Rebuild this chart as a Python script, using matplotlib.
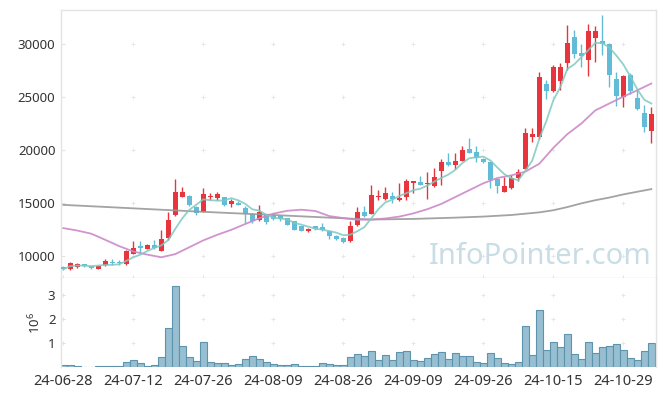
"""Daily candlestick chart with moving averages and volume (2024-06-28 .. 2024-11-04)."""

import matplotlib

matplotlib.use("Agg")
import matplotlib.pyplot as plt
import numpy as np
import pandas as pd

# ---------------------------------------------------------------------------
# Data
# ---------------------------------------------------------------------------

START = "2024-06-28"
END = "2024-11-04"
KR_HOLIDAYS = [
    "2024-08-15", "2024-09-16", "2024-09-17", "2024-09-18",
    "2024-10-01", "2024-10-03", "2024-10-09",
]

OPEN = [
    8950, 8700, 8900, 9080, 9030, 8710, 9090, 9350, 9330, 9190,
    10190, 10800, 10660, 11040, 10440, 11630, 13840, 15600, 15660, 14650,
    14180, 15550, 15470, 15540, 14910, 15030, 14500, 13960, 13400, 13930,
    13770, 13800, 13560, 13240, 12770, 12300, 12770, 12710, 12300, 11900,
    11700, 11350, 12920, 14150, 13960, 15550, 15380, 15660, 15280, 15600,
    16860, 16980, 16760, 16640, 18050, 18840, 18580, 18990, 20100, 19780,
    19150, 18900, 17260, 16070, 16390, 17330, 18240, 21260, 21200, 26230,
    25550, 26540, 28240, 30660, 29180, 28490, 30600, 30300, 30060, 26760,
    24970, 27080, 24880, 23460, 21830,
]
HIGH = [
    9000, 9450, 9310, 9150, 9050, 9060, 9650, 9700, 9600, 10570,
    11350, 11400, 11100, 11450, 12450, 14180, 17240, 16500, 15700, 14700,
    16390, 15950, 16070, 15600, 15400, 15150, 14700, 14000, 14810, 13960,
    14000, 13850, 13600, 13250, 12800, 12600, 12850, 13100, 12350, 12000,
    11800, 13300, 14600, 14700, 16700, 16200, 16500, 16000, 16890, 17250,
    17100, 17500, 17900, 18270, 19120, 19750, 19700, 20380, 21100, 20400,
    19200, 18950, 17300, 17490, 17600, 18200, 22050, 22050, 27390, 26600,
    28000, 28200, 31790, 31320, 30060, 31890, 31750, 32740, 30100, 27400,
    27100, 27300, 25700, 24250, 24090,
]
LOW = [
    8620, 8650, 8880, 8900, 8780, 8700, 9050, 9150, 9150, 9100,
    10150, 10300, 10600, 10650, 10400, 11500, 13710, 15540, 14700, 13870,
    14100, 15250, 15250, 14700, 14650, 14750, 13090, 13050, 13300, 12980,
    13400, 13300, 12900, 12400, 12300, 12250, 12450, 12300, 11600, 11450,
    11200, 11250, 12800, 13650, 13900, 15300, 15300, 14950, 15200, 15300,
    15950, 16650, 15400, 16500, 16700, 18500, 18200, 18950, 19700, 18850,
    18800, 16390, 15910, 16000, 16300, 17100, 18200, 20800, 21000, 24780,
    25500, 25660, 27550, 28700, 27860, 26980, 28300, 28960, 25980, 24180,
    24090, 25300, 23800, 21730, 20630,
]
CLOSE = [
    8720, 9300, 9180, 9040, 8800, 9030, 9530, 9300, 9290, 10400,
    10760, 10740, 11040, 10730, 11600, 13330, 16010, 16010, 14750, 14030,
    15850, 15620, 15790, 14840, 15130, 14810, 13930, 13240, 14180, 13180,
    13460, 13500, 12920, 12450, 12360, 12520, 12520, 12450, 11820, 11600,
    11300, 12770, 14090, 13770, 15750, 15620, 15970, 15400, 15500, 17080,
    17020, 16700, 16820, 17420, 18840, 18580, 18960, 20000, 19750, 19270,
    18900, 17170, 16640, 16600, 17330, 17960, 21640, 21510, 26920, 25600,
    27830, 27860, 30130, 29120, 28930, 31230, 31230, 30050, 27080, 25120,
    26980, 25600, 23900, 22140, 23400,
]
VOLUME = [
    70000, 70000, 30000, 5000, 5000, 30000, 30000, 30000, 30000, 190000,
    280000, 150000, 30000, 70000, 400000, 1610000, 3375000, 860000, 400000, 240000,
    1030000, 190000, 150000, 150000, 70000, 110000, 320000, 440000, 320000, 190000,
    110000, 70000, 70000, 110000, 30000, 30000, 30000, 150000, 110000, 70000,
    70000, 400000, 530000, 440000, 650000, 280000, 490000, 280000, 610000, 650000,
    280000, 240000, 360000, 530000, 610000, 320000, 570000, 440000, 440000, 190000,
    150000, 570000, 360000, 150000, 110000, 190000, 1690000, 490000, 2360000, 690000,
    1030000, 820000, 1360000, 530000, 320000, 1030000, 570000, 820000, 860000, 940000,
    690000, 360000, 280000, 650000, 990000,
]

# 20-day and 120-day averages, read at every other trading day
MA20_DAYS = list(range(0, 85, 2))
MA20 = [12610, 12380, 12080, 11500, 10900, 10400, 10100, 9850, 10150, 10800,
        11450, 11980, 12450, 13000, 13540, 13980, 14250, 14350, 14230, 13750,
        13560, 13400, 13420, 13520, 13700, 14000, 14400, 14900, 15550, 16200,
        16850, 17350, 17600, 17950, 18700, 20200, 21500, 22500, 23750, 24400,
        25050, 25650, 26290]
MA120_DAYS = [0, 10, 20, 30, 38, 44, 50, 56, 60, 64, 68, 70, 72, 74, 76, 78,
              80, 82, 84]
MA120 = [14810, 14480, 14150, 13850, 13600, 13420, 13480, 13600, 13700,
         13850, 14100, 14300, 14600, 14950, 15250, 15500, 15800, 16050, 16300]

RED = "#e8343c"
BLUE = "#62bcd8"
GRID = "#e4e4e4"
SPINE = "#e3e3e3"
TEXT = "#333333"


def trading_days() -> pd.DatetimeIndex:
    days = pd.bdate_range(START, END)
    return days[~days.isin(pd.to_datetime(KR_HOLIDAYS))]


def style_axis(ax, yticks) -> None:
    for side in ("top", "left", "right", "bottom"):
        ax.spines[side].set_color(SPINE)
        ax.spines[side].set_linewidth(1)
    ax.tick_params(axis="both", colors=SPINE, labelcolor=TEXT, labelsize=9.5,
                   length=3, width=0.8, direction="in", pad=4)
    ax.set_yticks(yticks)


def plus_grid(ax, xs, ys) -> None:
    gx, gy = np.meshgrid(xs, ys)
    ax.scatter(gx.ravel(), gy.ravel(), marker="+", s=9, linewidths=0.6,
               color=GRID, zorder=0.5, clip_on=False)


def main() -> None:
    plt.rcParams["font.family"] = ["Noto Sans", "DejaVu Sans"]

    days = trading_days()
    x = np.arange(len(days))
    o, h, l, c = (np.array(a, dtype=float) for a in (OPEN, HIGH, LOW, CLOSE))
    ma5 = pd.Series(c).rolling(5, min_periods=1).mean().to_numpy()

    fig = plt.figure(figsize=(6.65, 3.96), dpi=100)
    ax = fig.add_axes([61 / 665, 1 - 278 / 396, 595 / 665, 268 / 396])
    axv = fig.add_axes([61 / 665, 1 - 367 / 396, 595 / 665, 89 / 396], sharex=ax)

    # candles
    up = c >= o
    colours = np.where(up, RED, BLUE)
    ax.vlines(x, l, h, colors=colours, linewidth=1, zorder=2)
    body = np.maximum(np.abs(c - o), 140)
    ax.bar(x, body, bottom=np.minimum(o, c), width=0.72, color=colours,
           linewidth=0, zorder=3)

    # moving averages
    ax.plot(MA120_DAYS, MA120, color="#999999", linewidth=1.3, alpha=0.9, zorder=4)
    ax.plot(MA20_DAYS, MA20, color="#cc88c8", linewidth=1.3, alpha=0.9, zorder=4)
    ax.plot(x, ma5, color="#7ec9c0", linewidth=1.3, alpha=0.85, zorder=4)

    ax.text(0.805, 0.082, "InfoPointer.com", transform=ax.transAxes,
            ha="center", va="center", fontsize=21, color="#c9dde6", zorder=0)

    ax.set_xlim(-0.33, len(days) - 0.33)
    ax.set_ylim(7890, 33245)
    style_axis(ax, [10000, 15000, 20000, 25000, 30000])
    ax.tick_params(axis="x", labelbottom=False, direction="inout", length=5)
    plus_grid(ax, x[::10][1:], [10000, 15000, 20000, 25000, 30000])

    # volume
    vol = np.array(VOLUME) / 1e6
    axv.bar(x, vol, width=1.0, color="#98bfd1", edgecolor="#5e93ae",
            linewidth=0.8, zorder=2)
    axv.set_ylim(0, 3.71)
    style_axis(axv, [1, 2, 3])
    axv.spines["bottom"].set_visible(False)
    axv.spines["top"].set_visible(False)
    axv.set_xticks(x[::10])
    axv.set_xticklabels([d.strftime("%y-%m-%d") for d in days[::10]])
    axv.tick_params(axis="x", length=0, pad=5, labelsize=10.5)
    axv.set_ylabel(r"$\mathregular{10^6}$", color=TEXT, fontsize=9.5, labelpad=3)
    plus_grid(axv, x[::10], [1, 2, 3])

    fig.savefig("out.png", dpi=100)
    plt.close(fig)


if __name__ == "__main__":
    main()
